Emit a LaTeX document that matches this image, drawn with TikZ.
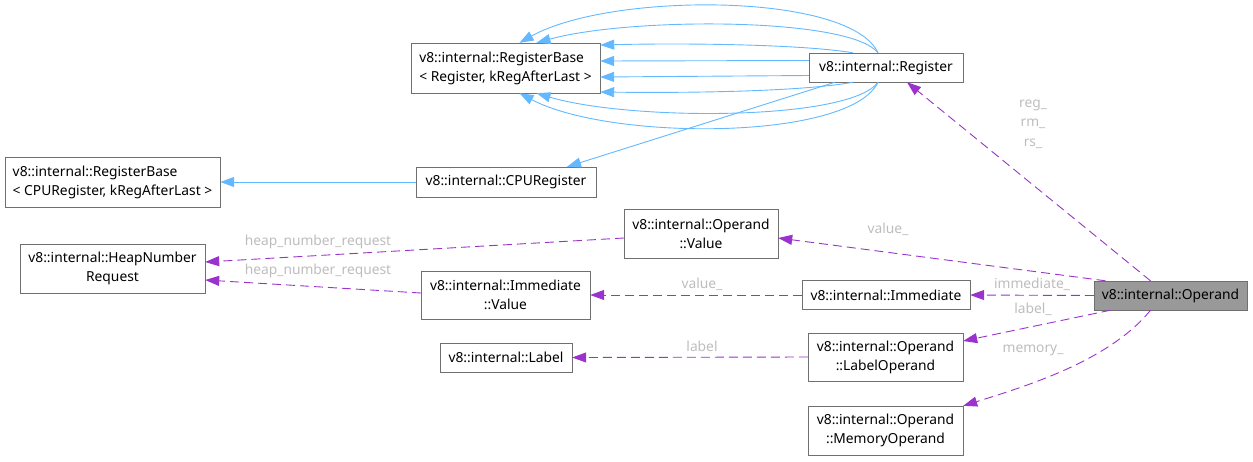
\documentclass[tikz,border=0pt]{standalone}
\usepackage{fontspec}
\setmainfont{Noto Sans}
\usetikzlibrary{arrows.meta,calc}
\definecolor{edgeblue}{HTML}{63B8FF}
\definecolor{edgepurple}{HTML}{9A32CD}
\definecolor{lblgray}{HTML}{BDBDBD}
\definecolor{boxgray}{HTML}{707070}
\tikzset{
  cls/.style={draw=boxgray, fill=white, inner sep=0pt, align=center,
    font=\fontsize{13.8}{19}\selectfont},
  clsl/.style={cls, align=left},
  inherit/.style={draw=edgeblue, line width=0.9pt,
    -{Triangle[length=14pt,width=10pt]}},
  usage/.style={draw=edgepurple, line width=0.9pt, dash pattern=on 9pt off 5pt,
    -{Triangle[length=14pt,width=10pt]}},
  lbl/.style={text=lblgray, inner sep=0pt, align=center,
    font=\fontsize{13.8}{19.5}\selectfont},
}
\begin{document}
\begin{tikzpicture}[x=1pt, y=-1pt]
    \useasboundingbox (0,0) rectangle (1253,461);
    % classes
    \node[cls, fill=black!40, minimum width=153, minimum height=29] (operand) at (1170.5,295.5) {v8::internal::Operand};
    \node[cls, minimum width=168, minimum height=29] (immediate) at (886,295) {v8::internal::Immediate};
    \node[cls, minimum width=155, minimum height=48] (labelop) at (885.5,357) {v8::internal::Operand\\::LabelOperand};
    \node[cls, minimum width=155, minimum height=49] (memop) at (885.5,430.5) {v8::internal::Operand\\::MemoryOperand};
    \node[cls, minimum width=132, minimum height=29] (label) at (506,357.5) {v8::internal::Label};
    \node[cls, minimum width=169, minimum height=48] (immval) at (505.5,295) {v8::internal::Immediate\\::Value};
    \node[cls, minimum width=185, minimum height=49] (heapreq) at (112.5,268.5) {v8::internal::HeapNumber\\Request};
    \node[cls, minimum width=154, minimum height=49] (opval) at (701,233.5) {v8::internal::Operand\\::Value};
    \node[cls, minimum width=180, minimum height=30] (cpureg) at (506,182) {v8::internal::CPURegister};
    \node[clsl, minimum width=215, minimum height=50] (rbcpu) at (112.5,182) {v8::internal::RegisterBase\\< CPURegister, kRegAfterLast >};
    \node[clsl, minimum width=189, minimum height=50] (rbreg) at (505.5,68) {v8::internal::RegisterBase\\< Register, kRegAfterLast >};
    \node[cls, minimum width=154, minimum height=29] (reg) at (886,67.5) {v8::internal::Register};

    % inheritance
    \draw[inherit] ($(reg.north)+(-8,0)$) .. controls (850,-8) and (610,-8) .. ($(rbreg.north)+(14,0)$);
    \draw[inherit] ($(reg.north)+(-8,0)$) .. controls (850,17) and (630,17) .. ($(rbreg.north)+(31,0)$);
    \draw[inherit] ($(reg.north)+(-33,0)$) .. controls (800,44) and (680,43) .. ($(rbreg.east)+(0,-23)$);
    \draw[inherit] ($(reg.west)+(0,-7)$) -- ($(rbreg.east)+(0,-7)$);
    \draw[inherit] ($(reg.west)+(0,8)$) -- ($(rbreg.east)+(0,9)$);
    \draw[inherit] ($(reg.south)+(-33,0)$) .. controls (800,92) and (680,93) .. ($(rbreg.east)+(0,24)$);
    \draw[inherit] ($(reg.south)+(-8,0)$) .. controls (850,121) and (630,121) .. ($(rbreg.south)+(31,0)$);
    \draw[inherit] ($(reg.south)+(-8,0)$) .. controls (850,141) and (610,141) .. ($(rbreg.south)+(14,0)$);
    \draw[inherit] ($(reg.south)+(-51,0)$) -- ($(cpureg.north)+(61,0)$);
    \draw[inherit] (cpureg.west) -- (rbcpu.east);

    % usage
    \draw[usage] ($(operand.north)+(-20,0)$) -- ($(reg.south)+(21,0)$);
    \draw[usage] ($(operand.north)+(-65,0)$) -- ($(opval.east)+(0,4.5)$);
    \draw[usage] (operand.west) -- (immediate.east);
    \draw[usage] ($(operand.south)+(-60,0)$) -- ($(labelop.east)+(0,-16)$);
    \draw[usage] ($(operand.south)+(-20,0)$) .. controls (1110,360) and (1030,385) .. (memop.north east);
    \draw[usage] (immediate.west) -- (immval.east);
    \draw[usage] (labelop.west) -- (label.east);
    \draw[usage] ($(opval.west)+(0,4.5)$) -- ($(heapreq.east)+(0,-6.5)$);
    \draw[usage] ($(immval.west)+(0,-2)$) -- ($(heapreq.east)+(0,11.5)$);

    % edge labels
    \node[lbl] (lregs) at (1033,124) {reg\_\\rm\_\\rs\_};
    \node[lbl] (lopval) at (888,229) {value\_};
    \node[lbl] (limm) at (1032,284) {immediate\_};
    \node[lbl] (llabelop) at (1033,309) {label\_};
    \node[lbl] (lmem) at (1033,350) {memory\_};
    \node[lbl] (limmval) at (702,284) {value\_};
    \node[lbl] (llabel) at (702,346) {label};
    \node[lbl] (lheapa) at (318,242) {heap\_number\_request};
    \node[lbl] (lheapb) at (318,271) {heap\_number\_request};
\end{tikzpicture}
\end{document}
